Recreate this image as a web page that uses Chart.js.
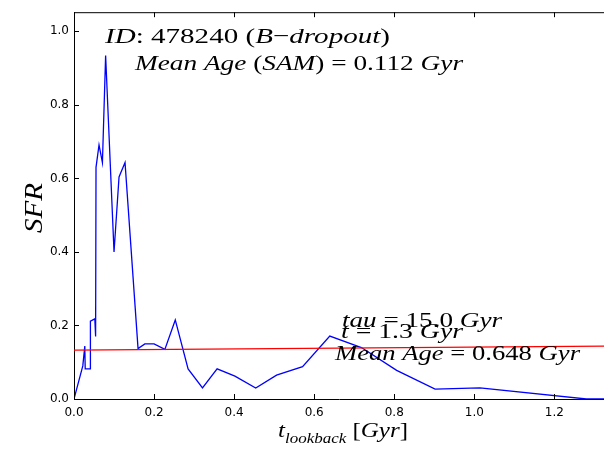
<!DOCTYPE html>
<html lang="en">
<head>
<meta charset="UTF-8" />
<title>SFR history - ID 478240</title>
<script src="https://cdn.jsdelivr.net/npm/chart.js"></script>
<style>
    html, body { margin: 0; padding: 0; background: #fff; overflow: hidden; }
    #wrap { width: 604px; height: 450px; }
</style>
</head>
<body>
<div id="wrap"><canvas id="sfrChart" width="604" height="450"></canvas></div>
<script>
// SAM star formation history (lookback time in Gyr, SFR)
const lookbackTime = [0, 0.022, 0.027, 0.028, 0.040, 0.041, 0.052, 0.054, 0.055, 0.0625, 0.071, 0.079,
    0.100, 0.1125, 0.1275, 0.160, 0.177, 0.200, 0.227, 0.253, 0.285, 0.321, 0.3575, 0.402, 0.454,
    0.506, 0.571, 0.639, 0.718, 0.806, 0.902, 1.014, 1.280, 1.330];
const sfrValues = [0, 0.09, 0.144, 0.082, 0.082, 0.212, 0.218, 0.170, 0.630, 0.691, 0.643, 0.934,
    0.400, 0.604, 0.643, 0.137, 0.150, 0.150, 0.135, 0.215, 0.082, 0.030, 0.082, 0.062, 0.030,
    0.065, 0.088, 0.171, 0.140, 0.078, 0.027, 0.030, 0.0, 0.0];

// fitted tau model
const tauModelTime = [0, 1.33];
const tauModelSfr = [0.133, 0.144];

const xTickValues = [0, 0.2, 0.4, 0.6, 0.8, 1.0, 1.2];
const yTickValues = [0, 0.2, 0.4, 0.6, 0.8, 1.0];

const serif = '"Liberation Serif", "Times New Roman", serif';

// draw a mathtext-like line: runs of [text, italic, sizeScale, dy]
function drawMath(ctx, runs, x, y, size, width) {
    const font = r => (r[1] ? 'italic ' : '') + (size * (r[2] || 1)) + 'px ' + serif;
    let total = 0;
    runs.forEach(r => { ctx.font = font(r); total += ctx.measureText(r[0]).width; });
    const sx = width ? width / total : 1;
    ctx.save();
    ctx.translate(x, y);
    ctx.scale(sx, 1);
    ctx.fillStyle = '#000';
    ctx.textBaseline = 'alphabetic';
    ctx.textAlign = 'left';
    let cx = 0;
    runs.forEach(r => {
        ctx.font = font(r);
        ctx.fillText(r[0], cx, r[3] || 0);
        cx += ctx.measureText(r[0]).width;
    });
    ctx.restore();
}

const frameAndText = {
    id: 'frameAndText',
    afterDraw(chart) {
        const ctx = chart.ctx;
        const a = chart.chartArea;
        const xs = chart.scales.x, ys = chart.scales.y;
        ctx.save();
        ctx.strokeStyle = '#000';
        ctx.lineWidth = 1;
        ctx.beginPath();
        // top spine
        ctx.moveTo(a.left, a.top + 0.5);
        ctx.lineTo(a.right, a.top + 0.5);
        // inward ticks
        xTickValues.forEach(v => {
            const px = Math.round(xs.getPixelForValue(v)) + 0.5;
            ctx.moveTo(px, a.bottom); ctx.lineTo(px, a.bottom - 5);
            ctx.moveTo(px, a.top); ctx.lineTo(px, a.top + 5);
        });
        yTickValues.forEach(v => {
            const py = Math.round(ys.getPixelForValue(v)) + 0.5;
            ctx.moveTo(a.left, py); ctx.lineTo(a.left + 5, py);
        });
        ctx.stroke();
        ctx.restore();

        drawMath(ctx, [['ID', 1], [': 478240 (', 0], ['B', 1], ['\u2212', 0], ['dropout', 1], [')', 0]],
            105, 43, 22, 285);
        drawMath(ctx, [['Mean Age ', 1], ['(', 0], ['SAM', 1], [') = 0.112 ', 0], ['Gyr', 1]],
            135, 70, 22, 328);
        drawMath(ctx, [['tau', 1], [' = 15.0 ', 0], ['Gyr', 1]], 342, 327, 20, 160);
        drawMath(ctx, [['t', 1], [' = 1.3 ', 0], ['Gyr', 1]], 341, 338, 20, 122);
        drawMath(ctx, [['Mean Age', 1], [' = 0.648 ', 0], ['Gyr', 1]], 335, 360, 20, 245);

        // axis labels
        drawMath(ctx, [['t', 1], ['lookback', 1, 0.68, 6], [' [', 0], ['Gyr', 1], [']', 0]],
            278, 437, 22, 130);
        ctx.save();
        ctx.translate(42, 233);
        ctx.rotate(-Math.PI / 2);
        drawMath(ctx, [['SFR', 1]], 0, 0, 26, 50);
        ctx.restore();
    }
};

new Chart(document.getElementById('sfrChart'), {
    type: 'scatter',
    data: {
        datasets: [
            {
                data: lookbackTime.map((t, i) => ({ x: t, y: sfrValues[i] })),
                showLine: true,
                borderColor: '#0000ff',
                borderWidth: 1.3,
                pointRadius: 0,
                order: 2
            },
            {
                data: tauModelTime.map((t, i) => ({ x: t, y: tauModelSfr[i] })),
                showLine: true,
                borderColor: '#ff0000',
                borderWidth: 1.3,
                pointRadius: 0,
                order: 1
            }
        ]
    },
    options: {
        responsive: false,
        animation: false,
        devicePixelRatio: 1,
        layout: { padding: { top: 6, right: 0, bottom: 0, left: 0 } },
        plugins: { legend: { display: false }, tooltip: { enabled: false } },
        scales: {
            x: {
                type: 'linear',
                min: 0,
                max: 1.324,
                afterBuildTicks: s => { s.ticks = xTickValues.map(v => ({ value: v })); },
                afterFit: s => { s.height = 51; },
                grid: { display: false, drawTicks: false },
                border: { display: true, color: '#000', width: 1 },
                ticks: {
                    color: '#000',
                    padding: 7,
                    maxRotation: 0,
                    autoSkip: false,
                    font: { family: 'DejaVu Sans', size: 12 },
                    callback: v => Number(v).toFixed(1)
                }
            },
            y: {
                type: 'linear',
                min: 0,
                max: 1.052,
                afterBuildTicks: s => { s.ticks = yTickValues.map(v => ({ value: v })); },
                afterFit: s => { s.width = 74; },
                grid: { display: false, drawTicks: false },
                border: { display: true, color: '#000', width: 1 },
                ticks: {
                    color: '#000',
                    padding: 5,
                    autoSkip: false,
                    font: { family: 'DejaVu Sans', size: 12 },
                    callback: v => Number(v).toFixed(1)
                }
            }
        }
    },
    plugins: [frameAndText]
});
</script>
</body>
</html>
